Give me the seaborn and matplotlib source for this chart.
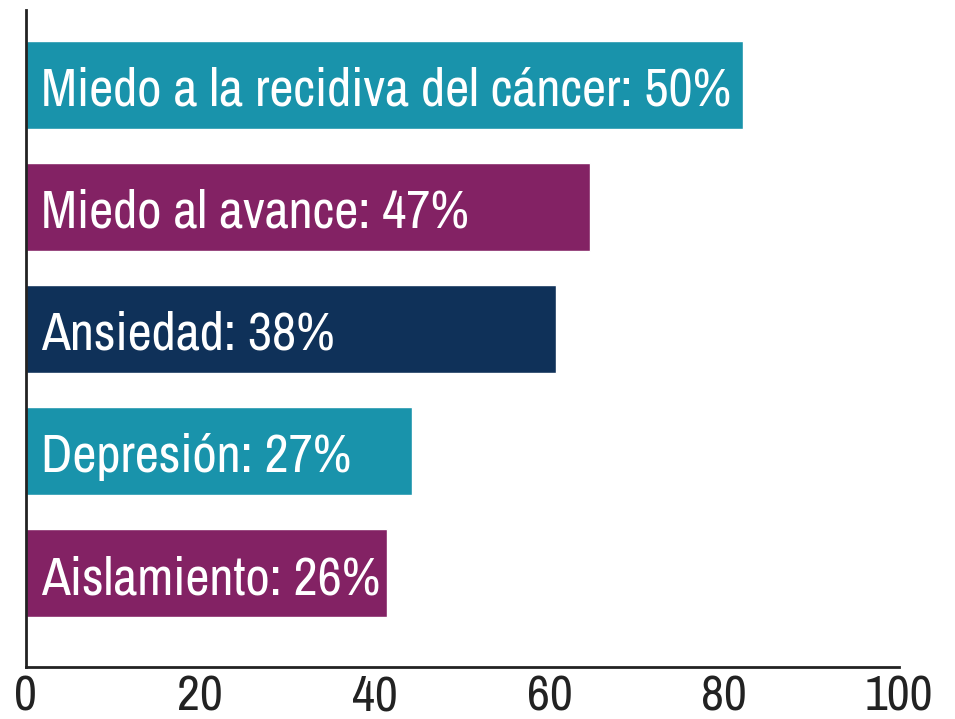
import matplotlib
matplotlib.use("Agg")
import matplotlib.pyplot as plt
import seaborn as sns
import pandas as pd

# Datos
categorias = ['Miedo a la recidiva del cáncer: 50%', 'Miedo al avance: 47%',
              'Ansiedad: 38%', 'Depresión: 27%', 'Aislamiento: 26%']
valores = [82.2, 64.6, 60.7, 44.3, 41.4]
colores = ['#1993ab', '#832264', '#0f3159', '#1993ab', '#832264']
ticks_x = [0, 20, 40, 60, 80, 100]

df = pd.DataFrame({'cat': categorias, 'val': valores})

sns.set_style('white')
plt.rcParams['font.family'] = ['Archivo Narrow', 'Roboto Condensed', 'DejaVu Sans']

fig, ax = plt.subplots(figsize=(9.55, 7.19), dpi=100)
fig.subplots_adjust(left=0.027, right=0.941, top=0.986, bottom=0.072)

sns.barplot(data=df, x='val', y='cat', hue='cat', palette=colores,
            legend=False, width=0.72, saturation=1, ax=ax)

# etiquetas dentro de las barras
for i, txt in enumerate(categorias):
    ax.text(1.8, i + 0.05, txt, color='white', fontsize=38, va='center', ha='left')

ax.set_xlim(0, 100)
ax.set_ylim(4.77, -0.61)
ax.set_xticks(ticks_x)
ax.set_xticklabels([str(t) for t in ticks_x], fontsize=36)
ax.set_yticks([])
ax.set_xlabel('')
ax.set_ylabel('')
ax.tick_params(axis='x', length=0, pad=5, colors='#222222')
for s in ['top', 'right']:
    ax.spines[s].set_visible(False)
for s in ['left', 'bottom']:
    ax.spines[s].set_color('#222222')
    ax.spines[s].set_linewidth(2)

fig.savefig('out.png', dpi=100)
